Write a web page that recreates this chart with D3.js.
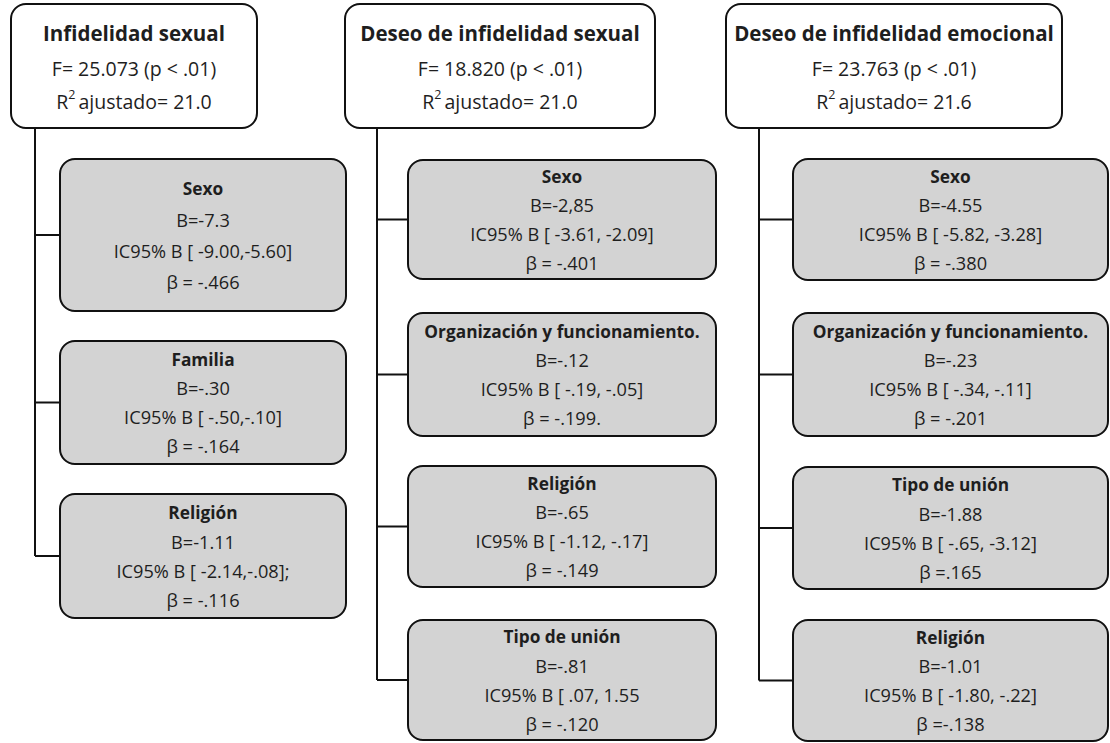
<!DOCTYPE html>
<html>
<head>
<meta charset="utf-8">
<script src="https://cdn.jsdelivr.net/npm/d3@7"></script>
<style>
  html, body { margin: 0; padding: 0; background: #ffffff; }
  svg { display: block; }
  text { font-family: "Open Sans", "Noto Sans", sans-serif; }
</style>
</head>
<body>
<svg id="chart" width="1110" height="743"></svg>
<script>
// ---- Data ----
const models = ["Infidelidad sexual", "Deseo de infidelidad sexual", "Deseo de infidelidad emocional"];
const fStats = ["F= 25.073 (p < .01)", "F= 18.820 (p < .01)", "F= 23.763 (p < .01)"];
const r2Values = ["21.0", "21.0", "21.6"];

const predictors = [
  ["Sexo", "Familia", "Religión"],
  ["Sexo", "Organización y funcionamiento.", "Religión", "Tipo de unión"],
  ["Sexo", "Organización y funcionamiento.", "Tipo de unión", "Religión"]
];
const bValues = [
  ["B=-7.3", "B=-.30", "B=-1.11"],
  ["B=-2,85", "B=-.12", "B=-.65", "B=-.81"],
  ["B=-4.55", "B=-.23", "B=-1.88", "B=-1.01"]
];
const ciValues = [
  ["IC95% B [ -9.00,-5.60]", "IC95% B [ -.50,-.10]", "IC95% B [ -2.14,-.08];"],
  ["IC95% B [ -3.61, -2.09]", "IC95% B [ -.19, -.05]", "IC95% B [ -1.12, -.17]", "IC95% B [ .07, 1.55"],
  ["IC95% B [ -5.82, -3.28]", "IC95% B [ -.34, -.11]", "IC95% B [ -.65, -3.12]", "IC95% B [ -1.80, -.22]"]
];
const betaValues = [
  ["β = -.466", "β = -.164", "β = -.116"],
  ["β = -.401", "β = -.199.", "β = -.149", "β = -.120"],
  ["β = -.380", "β = -.201", "β =.165", "β =-.138"]
];

// ---- Layout (positions / sizes, kept apart from data) ----
const layout = {
  header: [{x0: 11, x1: 257}, {x0: 345, x1: 655}, {x0: 726, x1: 1062}],
  headerY: [4, 128],
  headerLines: [33, 68, 101],
  vline: [35, 377, 759],
  child: [{x0: 60, x1: 346}, {x0: 408, x1: 716}, {x0: 793, x1: 1108}],
  boxes: [
    [[159, 311], [341, 464], [494, 618]],
    [[160, 279], [313, 436], [466, 587], [620, 740]],
    [[159, 280], [313, 436], [467, 589], [620, 741]]
  ]
};

const svg = d3.select("#chart");
const fill = "#d3d3d3";
const stroke = "#111111";
const textColor = "#1e1e1e";

models.forEach((m, ci) => {
  const hdr = layout.header[ci];
  const g = svg.append("g").attr("class", "model");

  // connecting tree lines
  const boxes = layout.boxes[ci];
  const branchY = boxes.map(b => (b[0] + b[1]) / 2);
  const vx = layout.vline[ci];
  const cx0 = layout.child[ci].x0;

  g.append("line")
    .attr("x1", vx).attr("x2", vx)
    .attr("y1", layout.headerY[1]).attr("y2", d3.max(branchY))
    .attr("stroke", stroke).attr("stroke-width", 2);

  g.selectAll("line.branch").data(branchY).join("line")
    .attr("class", "branch")
    .attr("x1", vx).attr("x2", cx0)
    .attr("y1", d => d).attr("y2", d => d)
    .attr("stroke", stroke).attr("stroke-width", 2);

  // header box
  g.append("rect")
    .attr("x", hdr.x0).attr("y", layout.headerY[0])
    .attr("width", hdr.x1 - hdr.x0).attr("height", layout.headerY[1] - layout.headerY[0])
    .attr("rx", 15).attr("ry", 15)
    .attr("fill", "#ffffff").attr("stroke", stroke).attr("stroke-width", 2);

  const hcx = (hdr.x0 + hdr.x1) / 2;
  g.append("text")
    .attr("x", hcx).attr("y", layout.headerLines[0])
    .attr("text-anchor", "middle").attr("dominant-baseline", "central")
    .attr("font-size", 20.5).attr("font-weight", 700).attr("fill", textColor)
    .text(m);
  g.append("text")
    .attr("x", hcx).attr("y", layout.headerLines[1])
    .attr("text-anchor", "middle").attr("dominant-baseline", "central")
    .attr("font-size", 19.5).attr("fill", textColor)
    .text(fStats[ci]);
  const r2 = g.append("text")
    .attr("x", hcx).attr("y", layout.headerLines[2])
    .attr("text-anchor", "middle").attr("dominant-baseline", "central")
    .attr("font-size", 19.5).attr("fill", textColor);
  r2.append("tspan").text("R");
  r2.append("tspan").attr("font-size", 12.5).attr("dy", -7).text("2");
  r2.append("tspan").attr("dy", 7).attr("dx", 3).text("ajustado= " + r2Values[ci]);

  // child boxes
  const ch = layout.child[ci];
  const ccx = (ch.x0 + ch.x1) / 2;
  predictors[ci].forEach((p, pi) => {
    const [y0, y1] = boxes[pi];
    const h = y1 - y0;
    const cy = (y0 + y1) / 2;
    const sp = h > 140 ? 31 : 29;
    const lineY = d3.scaleLinear().domain([0, 3]).range([cy - 1.5 * sp, cy + 1.5 * sp]);

    g.append("rect")
      .attr("x", ch.x0).attr("y", y0)
      .attr("width", ch.x1 - ch.x0).attr("height", h)
      .attr("rx", 15).attr("ry", 15)
      .attr("fill", fill).attr("stroke", stroke).attr("stroke-width", 2);

    const lines = [p, bValues[ci][pi], ciValues[ci][pi], betaValues[ci][pi]];
    g.selectAll(null).data(lines).join("text")
      .attr("x", ccx)
      .attr("y", (d, i) => lineY(i))
      .attr("text-anchor", "middle").attr("dominant-baseline", "central")
      .attr("font-size", (d, i) => i === 0 ? 17.3 : 18.2)
      .attr("font-weight", (d, i) => i === 0 ? 700 : 400)
      .attr("fill", textColor)
      .text(d => d);
  });
});
</script>
</body>
</html>
